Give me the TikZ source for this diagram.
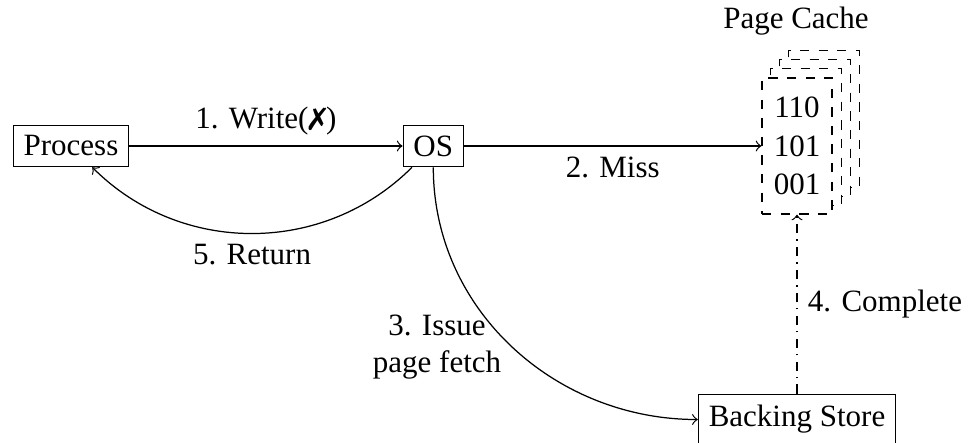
\documentclass[tikz,border=0pt]{standalone}
\usepackage{fontspec}
\setmainfont{Liberation Serif}
\usepackage{pifont}
\usetikzlibrary{backgrounds}
\tikzset{
  box/.style={draw, fill=white},
  cachebox/.style={draw, dashed, fill=white, minimum width=22.58pt, minimum height=43.87pt, align=center, inner sep=0pt, font=\fontsize{10}{12.5}\selectfont},
  pagecopy/.style={draw, dashed, fill=white},
  conn/.style={->}
}
\begin{document}
\begin{tikzpicture}[x=0.32258pt, y=-0.32258pt]
\useasboundingbox (0,0) rectangle (971,442);
\node[box] (process) at (71,146) {Process};
\node[box] (os) at (433.3,146) {OS};
\node[cachebox] (cache) at (797,146) {110\\101\\001};
\begin{scope}[on background layer]
  \foreach \k in {3,2,1} {
    \draw[pagecopy] ([shift={(9*\k,-9*\k)}]cache.south west) rectangle ([shift={(9*\k,-9*\k)}]cache.north east);
  }
\end{scope}
\node[anchor=base] (pclabel) at (796,29) {Page Cache};
\node[box, minimum height=16.2pt] (bs) at (797,419.5) {Backing Store};
\draw[conn] (process) -- node[above] {1. Write(\ding{55})} (os);
\draw[conn] (os) -- node[below] {2. Miss} (cache);
\draw[conn] (os) to[bend left=45] node[below] {5. Return} (process);
\draw[conn] (os.south) to[out=-90,in=180] node[left, align=center] {3. Issue\\page fetch} (bs.west);
\draw[conn, dashdotted] (bs) -- node[right] {4. Complete} (cache);
\end{tikzpicture}
\end{document}
